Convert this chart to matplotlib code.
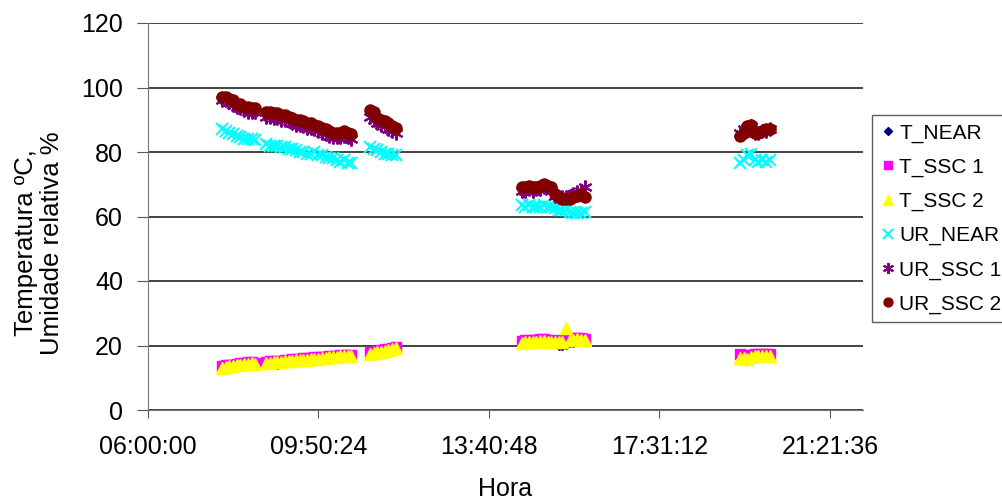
import matplotlib
matplotlib.use("Agg")
import matplotlib.pyplot as plt
from matplotlib.ticker import FuncFormatter

plt.rcParams['font.family'] = ['Liberation Sans', 'DejaVu Sans']

# --- Data ---
# measuring times, grouped in the five field campaigns
times = [
    # block 1
    "07:40", "07:45", "07:50", "07:55", "08:00", "08:05", "08:10", "08:15", "08:20", "08:25",
    # block 2
    "08:40", "08:45", "08:50", "08:55", "09:00", "09:05", "09:10", "09:15", "09:20", "09:25",
    "09:30", "09:35", "09:40", "09:45", "09:50", "09:55", "10:00", "10:05", "10:10", "10:15",
    "10:20", "10:25", "10:30", "10:35",
    # block 3
    "11:00", "11:05", "11:10", "11:15", "11:20", "11:25", "11:30", "11:35",
    # block 4
    "14:25", "14:30", "14:35", "14:40", "14:45", "14:50", "14:55", "15:00", "15:05", "15:10",
    "15:15", "15:20", "15:25", "15:30", "15:35", "15:40", "15:45", "15:50",
    # block 5
    "19:20", "19:25", "19:30", "19:35", "19:40", "19:45", "19:50", "19:55", "20:00",
]

t_near = [
    13.2, 13.5, 13.5, 13.8, 14.0, 14.0, 14.3, 14.4, 14.5, 14.2,
    14.6, 14.7, 14.8, 14.2, 15.0, 15.0, 15.2, 15.3, 15.4, 15.4,
    15.6, 15.5, 15.5, 15.8, 16.0, 16.1, 16.2, 16.3, 16.4, 16.5,
    16.7, 16.8, 16.9, 17.0,
    17.5, 17.8, 18.0, 18.3, 18.5, 18.8, 19.0, 19.2,
    20.8, 21.0, 21.0, 21.2, 21.0, 21.1, 21.2, 21.0, 21.0, 20.8,
    20.2, 20.2, 20.5, 21.0, 21.2, 21.5, 21.4, 21.3,
    16.5, 16.8, 16.6, 16.9, 17.0, 16.9, 17.0, 17.0, 17.2,
]
t_ssc1 = [
    13.6, 13.9, 14.0, 14.1, 14.3, 14.5, 14.6, 14.8, 14.8, 14.7,
    15.0, 15.1, 15.2, 15.3, 15.3, 15.5, 15.5, 15.7, 15.8, 15.8,
    16.0, 16.0, 16.2, 16.3, 16.3, 16.5, 16.5, 16.7, 16.8, 16.8,
    17.0, 17.0, 17.2, 17.2,
    17.9, 18.1, 18.3, 18.5, 18.8, 19.0, 19.3, 19.5,
    21.5, 21.6, 21.8, 21.8, 21.7, 21.9, 22.0, 21.8, 21.6, 21.5,
    21.5, 21.6, 21.8, 22.0, 22.2, 22.3, 22.2, 22.0,
    17.3, 17.0, 16.8, 17.2, 17.4, 17.3, 17.4, 17.4, 17.3,
]
t_ssc2 = [
    13.0, 13.3, 13.5, 13.7, 13.8, 14.0, 14.2, 14.4, 14.5, 14.4,
    14.6, 14.7, 14.8, 14.9, 14.9, 15.1, 15.1, 15.3, 15.4, 15.4,
    15.6, 15.6, 15.8, 15.9, 15.9, 16.1, 16.1, 16.3, 16.4, 16.4,
    16.6, 16.6, 16.8, 16.8,
    17.5, 17.7, 17.9, 18.1, 18.4, 18.6, 18.9, 19.1,
    20.8, 21.0, 21.2, 21.2, 21.1, 21.3, 21.4, 21.2, 21.0, 21.0,
    21.0, 21.2, 25.5, 21.6, 21.8, 21.9, 21.8, 21.6,
    16.0, 16.2, 15.8, 16.4, 16.8, 16.6, 16.8, 16.8, 16.6,
]
ur_near = [
    87.0, 86.5, 86.0, 85.5, 85.0, 84.5, 84.0, 84.0, 84.0, 83.8,
    82.5, 82.0, 82.0, 82.0, 81.5, 81.5, 81.0, 81.0, 80.5, 80.0,
    80.0, 79.5, 79.5, 80.0, 79.0, 79.0, 78.5, 78.0, 78.0, 77.5,
    77.0, 77.5, 76.5, 76.5,
    81.5, 81.0, 80.5, 80.0, 79.5, 79.5, 79.0, 79.0,
    63.5, 63.0, 63.5, 63.0, 63.0, 63.0, 63.5, 63.0, 63.0, 62.5,
    62.0, 62.0, 62.0, 61.5, 61.0, 61.0, 61.0, 61.5,
    76.5, 77.5, 79.0, 79.5, 77.5, 77.0, 77.5, 77.0, 77.5,
]
ur_ssc1 = [
    96.0, 96.0, 95.5, 94.5, 94.0, 93.5, 93.0, 92.5, 92.5, 92.5,
    91.0, 91.0, 90.5, 90.5, 90.0, 90.0, 89.5, 89.0, 88.5, 88.5,
    88.0, 87.5, 87.5, 87.0, 86.5, 86.0, 85.5, 85.0, 84.5, 84.5,
    84.5, 85.0, 84.5, 84.0,
    91.0, 90.0, 89.0, 88.5, 88.0, 87.0, 86.5, 86.0,
    68.0, 68.0, 68.5, 68.0, 68.5, 68.5, 69.0, 69.0, 68.0, 66.5,
    66.0, 66.0, 66.0, 66.5, 67.0, 67.5, 68.0, 69.0,
    86.0, 87.0, 87.5, 88.0, 86.0, 86.0, 86.5, 86.5, 87.0,
]
ur_ssc2 = [
    97.0, 97.0, 96.5, 96.0, 95.0, 95.0, 94.0, 94.0, 93.5, 93.5,
    92.5, 92.5, 92.0, 92.0, 91.5, 91.5, 91.0, 90.5, 90.0, 90.0,
    89.5, 89.0, 89.0, 88.5, 88.0, 87.5, 87.0, 86.5, 86.0, 86.0,
    86.0, 86.5, 86.0, 85.5,
    93.0, 92.5, 90.5, 90.0, 89.5, 89.0, 88.0, 87.5,
    69.0, 69.0, 69.5, 69.0, 69.0, 69.5, 70.0, 69.5, 69.0, 67.0,
    66.0, 65.5, 65.5, 65.5, 66.0, 66.5, 67.0, 66.0,
    85.0, 86.0, 88.0, 88.5, 86.0, 86.0, 86.5, 87.0, 87.0,
]

x_ticks = [0.25, 0.41, 0.57, 0.73, 0.89]
y_ticks = [0, 20, 40, 60, 80, 100, 120]


def to_day(hhmm):
    h, m = hhmm.split(":")
    return (int(h) + int(m) / 60.0) / 24.0


def day_label(v, pos=None):
    s = int(round(v * 86400))
    return "%02d:%02d:%02d" % (s // 3600, (s % 3600) // 60, s % 60)


x = [to_day(t) for t in times]

fig = plt.figure(figsize=(10.03, 5.01), dpi=100)
ax = fig.add_axes([148 / 1003, 91 / 501, 715 / 1003, 387 / 501])

ax.plot(x, t_near, linestyle='none', marker='D', ms=5, color='#000080', label='T_NEAR')
ax.plot(x, t_ssc1, linestyle='none', marker='s', ms=7, color='#ff00ff', label='T_SSC 1')
ax.plot(x, t_ssc2, linestyle='none', marker='^', ms=9, color='#ffff00', label='T_SSC 2')
ax.plot(x, ur_near, linestyle='none', marker='x', ms=9, mew=1.5, color='#00ffff', label='UR_NEAR')
ax.plot(x, ur_ssc1, linestyle='none', marker=(6, 2, 0), ms=10, mew=1.5, color='#800080', label='UR_SSC 1')
ax.plot(x, ur_ssc2, linestyle='none', marker='o', ms=8, color='#800000', label='UR_SSC 2')

ax.set_xlim(0.25, 0.921)
ax.set_ylim(0, 120)
ax.set_xticks(x_ticks)
ax.set_yticks(y_ticks)
ax.xaxis.set_major_formatter(FuncFormatter(day_label))
ax.tick_params(axis='both', labelsize=18, direction='out', color='#555555')
ax.tick_params(axis='y', length=8, pad=10)
ax.tick_params(axis='x', length=6, pad=12)

ax.grid(axis='y', color='#222222', linewidth=1.2)
ax.set_axisbelow(True)
for side in ['top', 'right']:
    ax.spines[side].set_visible(False)
for side in ['left', 'bottom']:
    ax.spines[side].set_color('#777777')

ax.set_xlabel("Hora", fontsize=18, labelpad=13)
fig.text(39 / 1003, 1 - 243 / 501, "Temperatura ºC,\nUmidade relativa %",
         rotation=90, fontsize=18.5, ha='center', va='center', linespacing=1.15)

leg = ax.legend(loc='upper left', bbox_to_anchor=(872 / 1003, 1 - 115 / 501),
                bbox_transform=fig.transFigure, fontsize=15, frameon=True,
                fancybox=False, edgecolor='#333333', borderaxespad=0,
                handlelength=0.7, handletextpad=0.2, labelspacing=0.72,
                borderpad=0.4, markerscale=0.8)
leg.get_frame().set_linewidth(1.0)

fig.savefig("out.png", dpi=100)
